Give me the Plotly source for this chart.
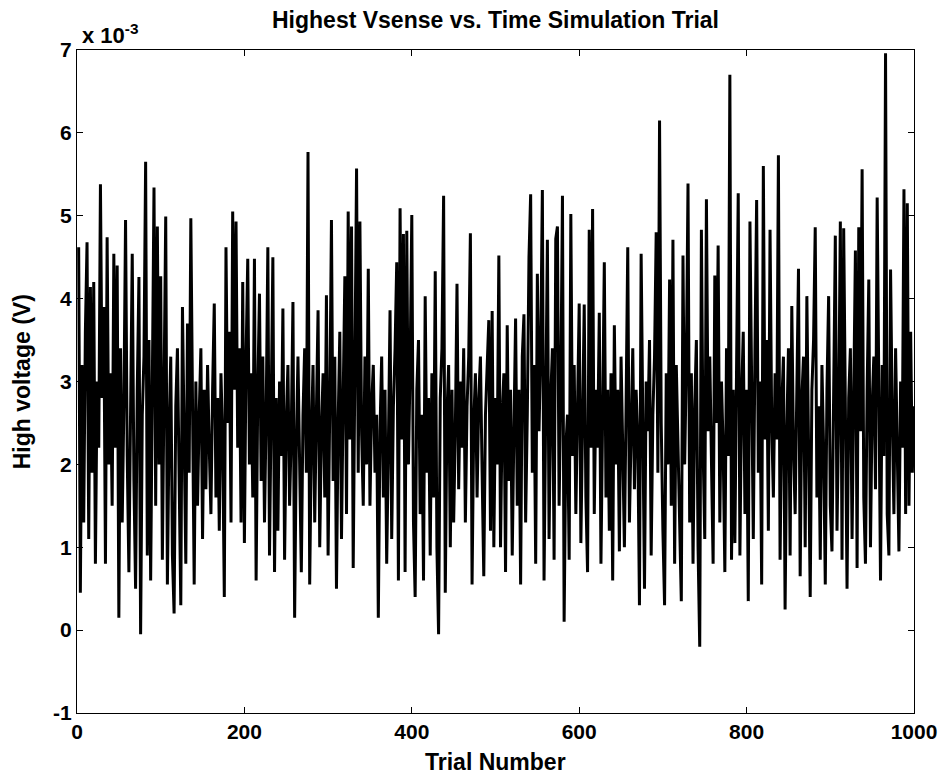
import plotly.graph_objects as go

# Highest Vsense per trial (units of 1e-3 V), one value every 2 trials
trials = list(range(2, 1001, 2))
vsense = [
    4.62, 0.45, 3.2, 1.3, 3.6, 4.68, 1.1, 4.14, 1.9, 4.2, 0.8, 3.0, 2.2, 5.38, 2.8, 3.9, 0.8, 4.74, 2.0, 3.1,
    1.5, 4.54, 2.2, 4.4, 0.15, 3.4, 1.3, 2.7, 4.95, 2.1, 0.7, 3.0, 4.54, 1.8, 0.5, 2.9, 4.26, -0.05, 2.6, 3.3,
    5.65, 0.9, 3.5, 0.6, 2.8, 5.34, 1.5, 4.87, 2.0, 4.27, 0.85, 3.2, 4.99, 0.55, 2.4, 3.3, 0.9, 0.2, 2.7, 3.4,
    1.9, 0.3, 3.9, 2.2, 0.8, 3.7, 1.9, 4.97, 2.5, 0.55, 3.0, 1.5, 2.6, 3.4, 1.1, 2.9, 1.7, 3.2, 2.2, 1.4,
    2.9, 3.94, 1.6, 2.8, 1.2, 3.1, 2.3, 0.4, 4.62, 2.5, 3.6, 1.3, 5.05, 2.9, 4.93, 2.2, 3.4, 1.3, 4.2, 1.05,
    3.3, 4.48, 2.0, 3.1, 1.6, 4.48, 0.6, 2.9, 4.06, 1.8, 3.3, 1.3, 2.6, 4.62, 0.9, 2.4, 4.5, 0.7, 2.8, 1.2,
    3.0, 2.1, 3.88, 0.85, 2.5, 3.2, 1.5, 2.4, 3.96, 0.15, 2.2, 3.3, 1.7, 0.7, 2.6, 3.4, 1.9, 5.77, 0.55, 2.3,
    3.2, 1.3, 2.6, 3.86, 1.0, 2.4, 3.1, 1.6, 4.04, 0.9, 2.7, 4.95, 1.8, 3.3, 0.5, 2.5, 3.6, 1.1, 2.8, 4.27,
    1.4, 5.05, 2.3, 4.87, 0.75, 3.2, 5.57, 1.9, 4.93, 2.4, 1.5, 3.3, 2.0, 4.36, 1.5, 2.7, 3.2, 1.9, 2.6, 0.15,
    2.4, 3.3, 1.6, 2.9, 0.8, 2.2, 3.86, 1.1, 2.7, 3.4, 4.44, 0.6, 5.09, 2.3, 4.78, 0.7, 4.82, 2.0, 3.2, 5.01,
    1.3, 0.4, 2.9, 3.5, 1.4, 2.6, 0.6, 4.03, 1.9, 2.8, 0.9, 3.1, 1.6, 4.33, 1.0, -0.05, 2.8, 3.4, 5.24, 0.45,
    2.6, 3.2, 1.0, 2.9, 1.3, 2.4, 4.18, 1.7, 3.0, 2.2, 3.4, 1.3, 2.7, 3.3, 4.79, 0.55, 2.5, 3.1, 1.6, 2.8,
    3.3, 1.9, 0.65, 2.6, 3.2, 3.74, 1.2, 3.85, 1.0, 2.8, 2.0, 4.52, 1.0, 2.6, 3.1, 0.7, 3.68, 1.8, 2.9, 0.9,
    2.4, 3.76, 1.5, 2.9, 0.55, 3.3, 3.81, 1.3, 2.6, 4.5, 5.26, 1.9, 3.2, 0.8, 4.3, 2.4, 3.4, 5.31, 0.6, 2.7,
    4.71, 1.1, 2.8, 3.4, 0.85, 4.72, 4.87, 1.5, 2.9, 5.24, 0.1, 2.2, 2.6, 0.85, 5.02, 2.1, 3.2, 1.4, 2.6, 3.94,
    1.05, 2.7, 3.93, 1.6, 0.7, 4.83, 2.2, 5.08, 1.4, 2.9, 2.2, 3.83, 0.8, 2.6, 4.44, 1.6, 2.9, 1.2, 3.1, 0.6,
    3.68, 2.0, 2.9, 0.95, 3.3, 2.2, 1.0, 2.7, 4.62, 1.3, 2.5, 3.4, 1.7, 2.9, 2.3, 0.3, 4.54, 2.2, 0.5, 3.0,
    2.4, 3.5, 0.9, 2.6, 3.3, 4.8, 1.9, 6.15, 2.5, 1.2, 0.3, 3.1, 2.0, 4.23, 1.5, 4.71, 0.8, 3.2, 2.3, 1.6,
    0.35, 4.52, 2.0, 3.2, 5.39, 1.3, 3.1, 0.8, 2.7, 3.5, 1.0, -0.2, 4.83, 2.2, 1.1, 5.2, 2.4, 3.3, 1.8, 0.8,
    4.28, 2.5, 4.64, 1.3, 3.0, 2.2, 0.7, 3.4, 2.1, 6.70, 0.85, 2.9, 1.05, 3.3, 5.27, 0.9, 2.8, 3.6, 1.4, 2.9,
    0.35, 4.93, 2.6, 1.1, 3.4, 5.19, 1.9, 3.0, 0.55, 5.6, 2.3, 3.5, 1.2, 4.83, 2.5, 1.6, 3.1, 2.3, 5.73, 0.85,
    2.7, 3.3, 0.25, 2.4, 3.4, 0.9, 3.91, 2.2, 1.4, 3.0, 4.36, 0.65, 2.8, 3.3, 1.0, 4.03, 1.9, 0.4, 2.9, 3.5,
    4.86, 1.6, 2.7, 0.85, 3.2, 2.2, 0.55, 2.9, 4.03, 1.5, 0.95, 3.3, 4.76, 1.2, 2.6, 4.93, 0.85, 4.85, 2.2, 0.5,
    2.8, 3.4, 1.1, 2.9, 4.58, 0.75, 4.86, 2.4, 5.56, 1.6, 0.8, 2.9, 4.23, 1.0, 2.7, 3.3, 1.7, 5.22, 2.3, 0.6,
    3.2, 2.1, 6.96, 1.4, 0.9, 4.35, 2.6, 1.4, 3.4, 2.0, 0.95, 3.0, 2.2, 5.32, 1.4, 5.15, 1.5, 3.6, 1.9, 2.7,
]

x_ticks = [0, 200, 400, 600, 800, 1000]
y_ticks = [-1, 0, 1, 2, 3, 4, 5, 6, 7]
y_tick_text = ["-1", "0", "1", "2", "3", "4", "5", "6", "7"]

FONT = "Liberation Sans, Arial, sans-serif"

fig = go.Figure()
fig.add_trace(go.Scatter(
    x=trials, y=vsense, mode="lines",
    line=dict(color="black", width=3),
    showlegend=False, hoverinfo="skip",
))

axis_common = dict(
    showline=True, linecolor="black", linewidth=1, mirror="ticks",
    ticks="inside", ticklen=6, tickcolor="black", tickwidth=1,
    showgrid=False, zeroline=False,
    tickfont=dict(family=FONT, size=21, color="black", weight="bold"),
)

fig.update_layout(
    width=949, height=778,
    margin=dict(l=77, r=32, t=50, b=65),
    paper_bgcolor="white", plot_bgcolor="white",
    font=dict(family=FONT, color="black"),
    xaxis=dict(range=[0, 1000], tickvals=x_ticks, **axis_common),
    yaxis=dict(range=[-1, 7], tickvals=y_ticks, ticktext=y_tick_text, **axis_common),
    annotations=[
        dict(text="<b>Highest Vsense vs. Time Simulation Trial</b>", xref="paper", yref="paper",
             x=0.5, y=1.045, xanchor="center", yanchor="middle", showarrow=False,
             font=dict(family=FONT, size=23, color="black")),
        dict(text="<b>Trial Number</b>", xref="paper", yref="paper",
             x=0.5, y=-0.074, xanchor="center", yanchor="middle", showarrow=False,
             font=dict(family=FONT, size=23, color="black")),
        dict(text="<b>High voltage (V)</b>", xref="paper", yref="paper",
             x=-0.066, y=0.5, xanchor="center", yanchor="middle", showarrow=False,
             textangle=-90, font=dict(family=FONT, size=23, color="black")),
        dict(text="<b>x 10<sup>-3</sup></b>", xref="paper", yref="paper",
             x=0.003, y=1.0, xanchor="left", yanchor="bottom", showarrow=False,
             font=dict(family=FONT, size=22, color="black")),
    ],
)

fig.write_html("out.html")
